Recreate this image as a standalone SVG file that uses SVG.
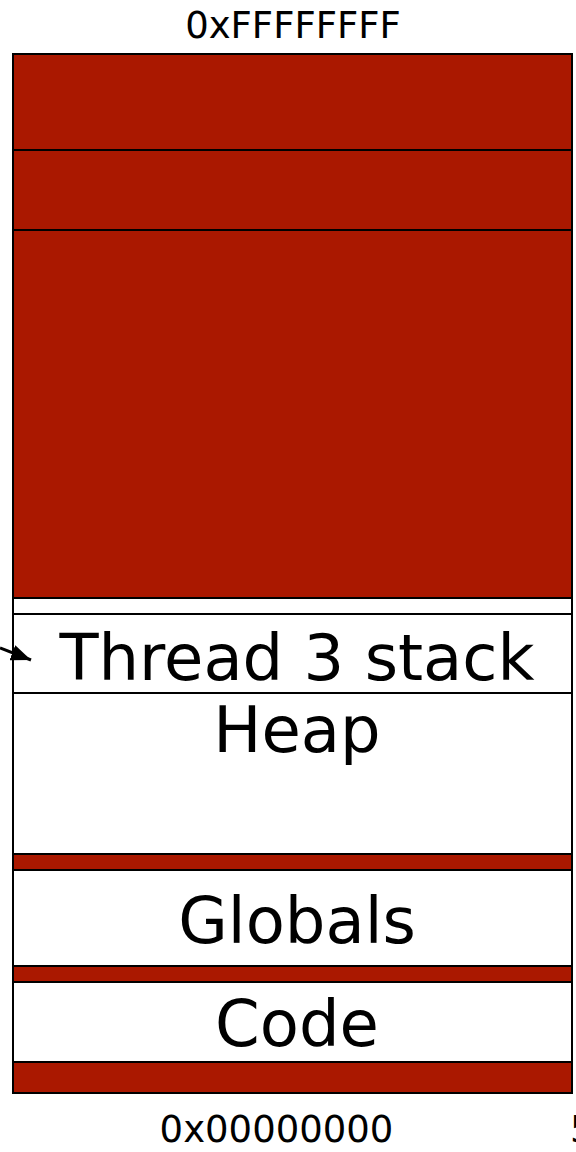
<svg xmlns="http://www.w3.org/2000/svg" width="576" height="1152" viewBox="0 0 576 1152">
  <style>
    .seg { stroke: #000; stroke-width: 2; }
    .used { fill: #aa1800; }
    .free { fill: #fff; }
    .big { font-family: "DejaVu Sans", Verdana, sans-serif; font-size: 64px; fill: #000; text-anchor: middle; }
    .addr { font-family: "DejaVu Sans", Verdana, sans-serif; font-size: 37px; fill: #000; text-anchor: middle; }
  </style>
  <defs>
    <marker id="head" markerWidth="20" markerHeight="16" refX="20" refY="8" orient="auto" markerUnits="userSpaceOnUse" viewBox="0 0 20 16">
      <path d="M0,0 L20,8 L0,16 Z" fill="#000"/>
    </marker>
  </defs>
  <rect width="576" height="1152" fill="#fff"/>

  <text class="addr" x="293" y="38">0xFFFFFFFF</text>

  <g id="upper">
    <rect class="seg used" x="13" y="54" width="559" height="96"/>
    <rect class="seg used" x="13" y="150" width="559" height="80"/>
    <rect class="seg used" x="13" y="230" width="559" height="368"/>
  </g>
  <g id="gap">
    <rect class="seg free" x="13" y="598" width="559" height="16"/>
  </g>
  <g id="thread3">
    <rect class="seg free" x="13" y="614" width="559" height="79"/>
    <text class="big" x="297" y="680">Thread 3 stack</text>
  </g>
  <g id="heap">
    <rect class="seg free" x="13" y="693" width="559" height="161"/>
    <text class="big" x="297" y="752">Heap</text>
  </g>
  <g id="gap2">
    <rect class="seg used" x="13" y="854" width="559" height="16"/>
  </g>
  <g id="globals">
    <rect class="seg free" x="13" y="870" width="559" height="96"/>
    <text class="big" x="297" y="943">Globals</text>
  </g>
  <g id="gap3">
    <rect class="seg used" x="13" y="966" width="559" height="16"/>
  </g>
  <g id="code">
    <rect class="seg free" x="13" y="982" width="559" height="80"/>
    <text class="big" x="297" y="1046">Code</text>
  </g>
  <g id="bottom">
    <rect class="seg used" x="13" y="1062" width="559" height="31"/>
  </g>

  <g id="connectors">
    <line x1="0" y1="648" x2="31" y2="660" stroke="#000" stroke-width="3" marker-end="url(#head)"/>
  </g>

  <text class="addr" x="276.5" y="1142">0x00000000</text>
  <text class="addr" x="570" y="1142" style="text-anchor:start">5</text>
</svg>
